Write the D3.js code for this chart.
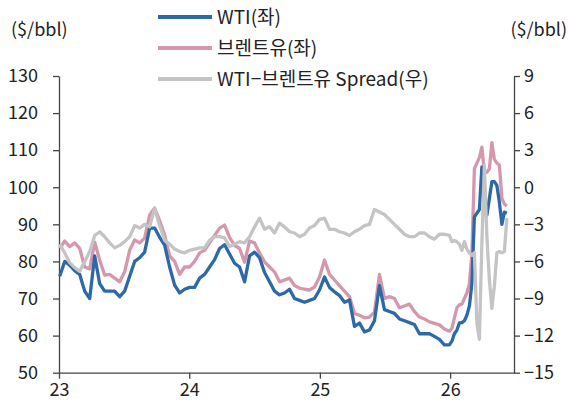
<!DOCTYPE html>
<html>
<head>
<meta charset="utf-8">
<script src="https://cdn.jsdelivr.net/npm/d3@7"></script>
<style>
  body { margin: 0; background: #fff; }
  svg text { font-family: "Noto Sans CJK KR", "Noto Sans", sans-serif; fill: #222; }
  .axis path, .axis line { stroke: #444; stroke-width: 1.3; }
</style>
</head>
<body>
<svg id="chart"></svg>
<script>
// observation dates: biweekly to end of 2025, weekly in 2026
const dates = [
  '2023-01-03','2023-01-17','2023-01-31','2023-02-14','2023-02-28','2023-03-14','2023-03-28','2023-04-11',
  '2023-04-25','2023-05-09','2023-05-23','2023-06-06','2023-06-20','2023-07-04','2023-07-18','2023-08-01',
  '2023-08-15','2023-08-29','2023-09-12','2023-09-26','2023-10-10','2023-10-24','2023-11-07','2023-11-21',
  '2023-12-05','2023-12-19',
  '2024-01-02','2024-01-16','2024-01-30','2024-02-13','2024-02-27','2024-03-12','2024-03-26','2024-04-09',
  '2024-04-23','2024-05-07','2024-05-21','2024-06-04','2024-06-18','2024-07-02','2024-07-16','2024-07-30',
  '2024-08-13','2024-08-27','2024-09-10','2024-09-24','2024-10-08','2024-10-22','2024-11-05','2024-11-19',
  '2024-12-03','2024-12-17','2024-12-31',
  '2025-01-14','2025-01-28','2025-02-11','2025-02-25','2025-03-11','2025-03-25','2025-04-08','2025-04-22',
  '2025-05-06','2025-05-20','2025-06-03','2025-06-17','2025-07-01','2025-07-15','2025-07-29','2025-08-12',
  '2025-08-26','2025-09-09','2025-09-23','2025-10-07','2025-10-21','2025-11-04','2025-11-18','2025-12-02',
  '2025-12-16','2025-12-30',
  '2026-01-06','2026-01-13','2026-01-20','2026-01-27','2026-02-03','2026-02-10','2026-02-17','2026-02-24',
  '2026-03-03','2026-03-10','2026-03-17','2026-03-24','2026-03-31','2026-04-07','2026-04-14','2026-04-21',
  '2026-04-28','2026-05-05','2026-05-12','2026-05-19','2026-05-26','2026-06-02','2026-06-09'
];

// WTI ($/bbl, left axis)
const wti = [
  76, 80, 79, 77.5, 76.5, 72, 70, 81.5, 74, 72, 72, 72, 70.5, 72, 76, 80, 81, 82.5, 89, 89, 86.5, 84.4, 78.5, 73.6, 71.5, 72.5,
  73, 73, 75.5, 76.5, 78.5, 80.5, 83.5, 84.5, 82, 79.5, 78.5, 74.5, 81.5, 82.5, 81, 77, 74.5, 72, 71, 71.5, 72.5, 70, 69.5, 69, 69.5, 70, 72.3,
  75.8, 73, 71.8, 70.8, 69, 69.6, 62.5, 63.4, 61, 61.5, 64, 73.5, 67, 66.5, 66, 64.5, 64, 63.5, 63, 60.5, 60.5, 60.5, 59.8, 59, 57.5, 57.5,
  58.5, 60.5, 61.5, 63.4, 63.5, 64, 65.5, 68, 74, 92, 93, 94, 105.5, 95, 92.5, 97, 101.5, 101.5, 100.5, 96, 90, 93.3, 93
];

// Brent ($/bbl, left axis)
const brent = [
  83.5, 85.5, 84, 85, 83.5, 78.5, 78, 85.2, 80.4, 76.3, 76.5, 75.5, 74.5, 77.2, 83, 85.8, 85, 86.3, 92.5, 94.4, 91, 87.1, 81.5, 80, 76.5, 78.5,
  78.5, 80, 82.3, 83, 85, 87, 89, 89.8, 86.5, 84.3, 83.5, 79.8, 85.5, 85, 82.3, 79.9, 78.5, 77.2, 74.5, 75, 75.5, 73.5, 72.8, 72.5, 72.3, 73.1, 75.8,
  80.4, 76.5, 75, 73.5, 72, 70.5, 66, 65.5, 64.8, 65, 66.4, 76.5, 70, 70.5, 70, 67.5, 68, 68.5, 66.5, 65, 64.5, 63.7, 63.3, 62.9, 61.8, 61.2,
  62, 64.8, 67.5, 68.3, 68.5, 70, 71.5, 74, 82, 105, 106.5, 108, 110.8, 104, 104, 105, 112, 107.5, 106.5, 106, 97, 95.5, 95
];

// WTI - Brent spread ($/bbl, right axis)
const spread = [
  -4.6, -5.3, -6.1, -6.5, -6.8, -6.0, -5.2, -3.9, -3.6, -4.0, -4.5, -4.9, -4.7, -4.4, -4.0, -3.1, -3.3, -3.0, -3.2, -1.7, -3.1, -4.3, -4.6, -5.0, -5.2, -5.3,
  -5.1, -5.0, -4.9, -4.9, -4.3, -4.0, -4.0, -4.1, -4.8, -4.6, -4.4, -4.5, -4.0, -3.2, -2.5, -3.4, -3.2, -3.7, -2.9, -3.2, -3.6, -3.7, -4.0, -3.8, -3.3, -3.1, -2.6,
  -2.5, -3.4, -3.4, -3.6, -3.7, -3.9, -3.6, -3.4, -3.1, -3.0, -1.8, -2.0, -2.2, -2.6, -3.0, -3.4, -3.8, -4.0, -4.0, -3.7, -3.7, -4.0, -4.2, -3.8, -3.8, -3.9,
  -4.4, -4.3, -4.4, -4.6, -5.1, -4.4, -5.0, -5.3, -5.5, -5.3, -11, -12.3, -4.5, 1.8, -4, -7.5, -9.8, -8, -5.3, -5.2, -5.3, -5.2, -2.5
];

const leftTicks = [50, 60, 70, 80, 90, 100, 110, 120, 130];
const rightTicks = [-15, -12, -9, -6, -3, 0, 3, 6, 9];
const yearTicks = ['2023-01-01', '2024-01-01', '2025-01-01', '2026-01-01'];
const yearLabels = ['23', '24', '25', '26'];

const seriesInfo = [
  { key: 'brent', label: '브렌트유(좌)', color: '#d597ab', values: brent, axis: 'L' },
  { key: 'wti', label: 'WTI(좌)', color: '#2e69a7', values: wti, axis: 'L' },
  { key: 'spread', label: 'WTI−브렌트유 Spread(우)', color: '#c4c4c4', values: spread, axis: 'R' }
];

const W = 568, H = 408;
const margin = { top: 76, right: 54, bottom: 35.3, left: 59 };
const width = W - margin.left - margin.right;
const height = H - margin.top - margin.bottom;

const parse = d3.utcParse('%Y-%m-%d');
const dateObjs = dates.map(parse);

const svg = d3.select('#chart').attr('width', W).attr('height', H);
const chart = svg.append('g').attr('transform', `translate(${margin.left},${margin.top})`);

const xScale = d3.scaleUtc()
    .domain([parse('2023-01-01'), parse('2026-06-29')])
    .range([0, width]);
const yLeft = d3.scaleLinear().domain([50, 130]).range([height, 0]);
const yRight = d3.scaleLinear().domain([-15, 9]).range([height, 0]);

// axes
const xAxis = d3.axisBottom(xScale)
    .tickValues(yearTicks.map(parse))
    .tickFormat((d, i) => yearLabels[i])
    .tickSize(6).tickSizeOuter(0).tickPadding(5);
const yAxisL = d3.axisLeft(yLeft).tickValues(leftTicks).tickSize(6).tickSizeOuter(0).tickPadding(15);
const yAxisR = d3.axisRight(yRight).tickValues(rightTicks).tickSize(6).tickSizeOuter(0).tickPadding(4)
    .tickFormat(d3.format('d'));

chart.append('g').attr('class', 'axis').attr('transform', `translate(0,${height})`).call(xAxis)
    .selectAll('text').style('font-size', '18px');
chart.append('g').attr('class', 'axis').call(yAxisL)
    .selectAll('text').style('font-size', '18px');
chart.append('g').attr('class', 'axis').attr('transform', `translate(${width},0)`).call(yAxisR)
    .selectAll('text').style('font-size', '18px');

// lines
seriesInfo.forEach(s => {
  const yS = s.axis === 'L' ? yLeft : yRight;
  const line = d3.line()
      .x((d, i) => xScale(dateObjs[i]))
      .y(d => yS(d));
  chart.append('path')
      .datum(s.values)
      .attr('fill', 'none')
      .attr('stroke', s.color)
      .attr('stroke-width', 3.3)
      .attr('stroke-linejoin', 'round')
      .attr('d', line);
});

// axis units
svg.append('text').attr('x', 11).attr('y', 36).style('font-size', '18px').text('($/bbl)');
svg.append('text').attr('x', 567).attr('y', 36).attr('text-anchor', 'end').style('font-size', '18px').text('($/bbl)');

// legend
const legendOrder = ['wti', 'brent', 'spread'];
const legend = svg.append('g').attr('transform', 'translate(158,17)');
legendOrder.forEach((k, i) => {
  const s = seriesInfo.find(d => d.key === k);
  const g = legend.append('g').attr('transform', `translate(0,${i * 31})`);
  g.append('line').attr('x1', 0).attr('x2', 54).attr('y1', 0).attr('y2', 0)
      .attr('stroke', s.color).attr('stroke-width', 4);
  g.append('text').attr('x', 59).attr('y', 0).attr('dy', '0.35em')
      .style('font-size', '19px').text(s.label);
});
</script>
</body>
</html>
